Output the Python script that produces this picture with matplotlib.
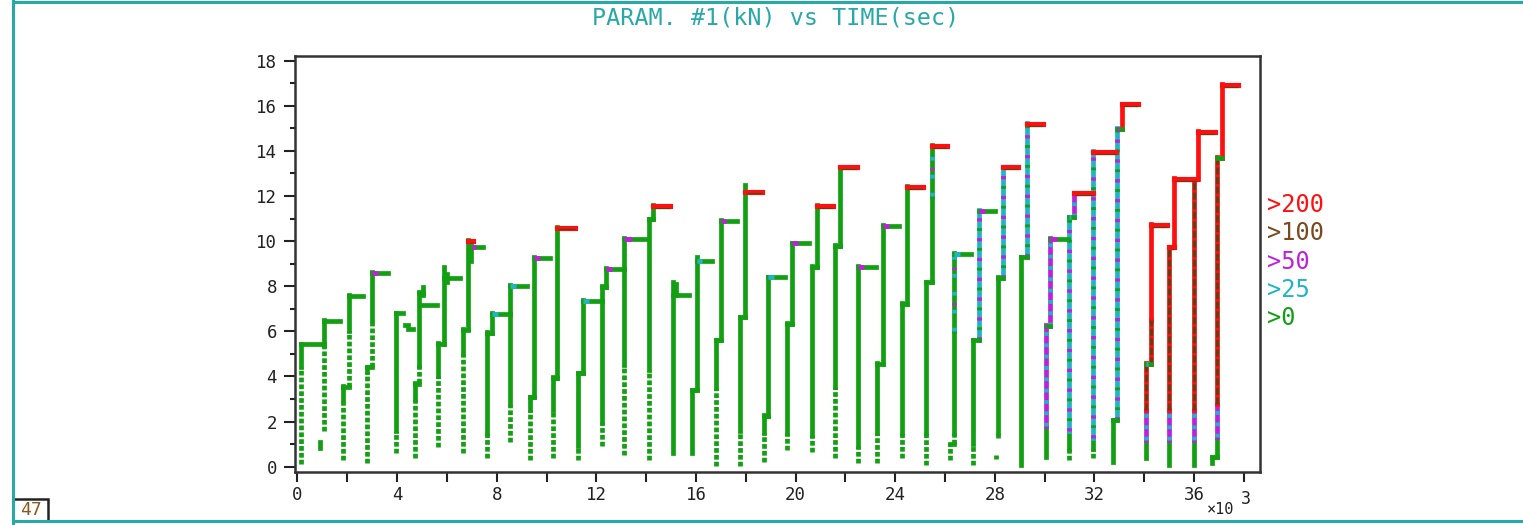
import matplotlib
matplotlib.use("Agg")
import matplotlib.pyplot as plt
from matplotlib.lines import Line2D
from matplotlib.patches import Rectangle

# ---------------- data (time in 10^3 s, load in kN) ----------------
# vertical runs: time, lowest value, value where the solid run starts, top value, colour class
vert_t = [0.14, 0.90, 1.08,
          1.84, 2.07,
          2.80, 2.98,
          3.96,
          4.72, 4.89, 5.03,
          5.66, 5.88, 6.00,
          6.66, 6.86, 6.98,
          7.60, 7.80, 8.53,
          9.34, 9.50,
          10.27, 10.43,
          11.25, 11.45, 12.22, 12.39, 13.13, 14.13, 14.29,
          15.07, 15.20,
          15.83, 16.06,
          16.81, 17.00,
          17.77, 17.97,
          18.73, 18.91,
          19.67, 19.85,
          20.65, 20.85,
          21.59, 21.79,
          22.52,
          23.29, 23.53,
          24.26, 24.46,
          25.24, 25.47, 25.47,
          26.20, 26.38, 26.38,
          27.14, 27.38,
          28.12, 28.05, 28.32,
          29.04, 29.28,
          30.05, 30.05, 30.22, 31.00, 31.00, 31.18, 31.96, 31.96, 32.74, 32.92, 33.10,
          34.08, 34.08, 34.08, 34.27, 34.27,
          35.01, 35.01, 35.01, 35.20, 35.98, 35.98, 35.98, 36.18,
          36.71, 36.94, 36.94, 36.94, 37.14]
vert_lo = [0.10, 0.85, 1.60,
           0.30, 3.55,
           0.15, 4.40,
           0.60,
           0.40, 3.70, 7.60,
           0.89, 5.45, 8.20,
           0.60, 6.10, 9.10,
           0.37, 5.95, 1.10,
           0.30, 3.10,
           0.37, 3.95,
           0.30, 4.15, 0.90, 7.95, 0.50, 0.30, 10.97,
           0.59, 7.60,
           0.59, 3.40,
           0.05, 5.60,
           0.05, 6.62,
           0.22, 2.27,
           0.74, 6.33,
           0.67, 8.87,
           0.37, 9.80,
           0.15,
           0.15, 4.55,
           0.37, 7.20,
           0.07, 8.17, 12.00,
           0.30, 1.00, 6.00,
           0.08, 5.60,
           1.26, 0.35, 8.37,
           0.08, 9.28,
           0.44, 1.80, 6.25, 0.30, 1.60, 11.05, 0.37, 1.26, 0.22, 2.05, 14.97,
           0.37, 1.20, 2.50, 4.55, 6.50,
           0.08, 1.20, 2.50, 9.72, 0.08, 1.20, 2.50, 12.75,
           0.15, 0.44, 1.33, 2.80, 13.70]
vert_solid = [4.40, 0.85, 5.40,
              3.00, 6.00,
              4.20, 6.50,
              1.60,
              3.00, 4.50, 7.60,
              4.00, 5.45, 8.20,
              5.00, 6.10, 9.10,
              1.50, 5.95, 2.80,
              2.50, 3.10,
              2.50, 3.95,
              0.90, 4.15, 2.00, 7.95, 4.50, 4.30, 10.97,
              0.59, 7.60,
              0.59, 3.40,
              3.50, 5.60,
              1.60, 6.62,
              1.50, 2.27,
              1.50, 6.33,
              1.40, 8.87,
              3.55, 9.80,
              0.90,
              1.50, 4.55,
              1.50, 7.20,
              1.50, 8.17, 12.00,
              1.04, 1.50, 6.00,
              1.00, 5.60,
              1.50, 0.50, 8.37,
              0.08, 9.28,
              0.44, 1.80, 6.25, 0.80, 1.60, 11.05, 0.80, 1.26, 0.22, 2.05, 14.97,
              0.37, 1.20, 2.50, 4.55, 6.50,
              0.08, 1.20, 2.50, 9.72, 0.08, 1.20, 2.50, 12.75,
              0.15, 0.44, 1.33, 2.80, 13.70]
vert_hi = [5.45, 1.10, 6.50,
           3.60, 7.62,
           4.43, 8.62,
           6.83,
           3.70, 7.75, 7.95,
           5.47, 8.87, 8.55,
           6.10, 10.05, 9.80,
           5.98, 6.80, 8.05,
           3.10, 9.28,
           3.99, 10.64,
           4.17, 7.39, 8.00, 8.79, 10.12, 11.00, 11.60,
           8.20, 8.10,
           3.40, 9.31,
           5.62, 10.94,
           6.65, 12.49,
           2.29, 8.42,
           6.36, 9.93,
           8.90, 11.60,
           9.83, 13.30,
           8.90,
           4.58, 10.71,
           7.24, 12.44,
           8.20, 12.00, 14.26,
           1.04, 6.00, 9.46,
           5.62, 11.38,
           8.39, 0.50, 13.30,
           9.31, 15.22,
           1.80, 6.28, 10.12, 1.60, 11.08, 12.15, 1.26, 14.00, 2.07, 15.00, 16.10,
           1.20, 2.50, 4.58, 6.50, 10.76,
           1.20, 2.50, 9.75, 12.78, 1.20, 2.50, 12.75, 14.90,
           0.44, 1.33, 2.80, 13.74, 16.96]
vert_cls = ['g', 'g', 'g',
            'g', 'g',
            'g', 'g',
            'g',
            'g', 'g', 'g',
            'g', 'g', 'g',
            'g', 'g', 'g',
            'g', 'g', 'g',
            'g', 'g',
            'g', 'g',
            'g', 'g', 'g', 'g', 'g', 'g', 'g',
            'g', 'g',
            'g', 'g',
            'g', 'g',
            'g', 'g',
            'g', 'g',
            'g', 'g',
            'g', 'g',
            'g', 'g',
            'g',
            'g', 'g',
            'g', 'g',
            'g', 'g', 'gc',
            'g', 'g', 'gc',
            'g', 'cm',
            'g', 'g', 'cm',
            'g', 'cm',
            'g', 'mc', 'mc', 'g', 'cm', 'mc', 'g', 'cm', 'g', 'cm', 'r',
            'g', 'mc', 'br', 'br', 'r',
            'g', 'mc', 'br', 'r', 'g', 'mc', 'br', 'r',
            'g', 'g', 'mc', 'br', 'r']

# horizontal runs (dwell levels): start time, end time, level, colour class
cap_t0 = [0.14, 1.08, 1.84, 2.07, 2.80, 2.98, 3.96, 4.30, 4.45,
          4.72, 4.89, 4.95, 5.66, 5.88, 6.66, 6.86, 7.00,
          7.60, 7.80, 8.53, 9.34, 9.50, 10.27, 10.43,
          11.25, 11.45, 12.22, 12.39, 13.13, 14.13, 14.29,
          15.07, 15.83, 16.06, 16.81, 17.00, 17.77, 17.97,
          18.73, 18.91, 19.67, 19.85, 20.65, 20.85, 21.59, 21.79,
          22.52, 23.29, 23.53, 24.26, 24.46, 25.24, 25.47,
          26.20, 26.38, 27.14, 27.38, 28.12, 28.32, 29.04, 29.28,
          30.05, 30.22, 31.00, 31.18, 31.96, 32.74, 32.92, 33.10,
          34.08, 34.27, 35.01, 35.20, 36.18, 36.71, 36.94, 37.14]
cap_t1 = [1.08, 1.71, 2.07, 2.63, 2.98, 3.65, 4.25, 4.45, 4.65,
          4.89, 5.05, 5.59, 5.88, 6.53, 6.86, 7.05, 7.46,
          7.80, 8.53, 9.20, 9.50, 10.14, 10.43, 11.14,
          11.45, 12.22, 12.39, 13.13, 14.02, 14.29, 14.96,
          15.72, 16.06, 16.63, 17.00, 17.64, 17.97, 18.64,
          18.91, 19.58, 19.85, 20.55, 20.85, 21.49, 21.79, 22.46,
          23.23, 23.53, 24.17, 24.46, 25.13, 25.47, 26.07,
          26.38, 27.04, 27.38, 28.01, 28.32, 28.95, 29.28, 29.93,
          30.22, 30.96, 31.18, 31.96, 32.87, 32.92, 33.10, 33.77,
          34.27, 34.90, 35.20, 36.11, 36.85, 36.94, 37.14, 37.75]
cap_v = [5.42, 6.45, 3.55, 7.57, 4.40, 8.60, 6.80, 6.30, 6.10,
         3.68, 7.72, 7.15, 5.45, 8.35, 6.08, 10.00, 9.75,
         5.95, 6.75, 8.00, 3.08, 9.25, 3.95, 10.60,
         4.15, 7.35, 7.95, 8.75, 10.10, 10.97, 11.55,
         7.62, 3.40, 9.12, 5.60, 10.90, 6.62, 12.20,
         2.27, 8.40, 6.33, 9.90, 8.87, 11.55, 9.80, 13.28,
         8.87, 4.55, 10.65, 7.20, 12.40, 8.17, 14.22,
         1.00, 9.45, 5.60, 11.35, 8.37, 13.28, 9.28, 15.20,
         6.25, 10.10, 11.05, 12.12, 13.95, 2.05, 14.97, 16.07,
         4.55, 10.72, 9.72, 12.75, 14.85, 0.44, 13.70, 16.92]
cap_cls = ['g', 'g', 'g', 'g', 'g', 'm', 'g', 'g', 'g',
           'g', 'g', 'g', 'g', 'g', 'g', 'r', 'm',
           'g', 'c', 'c', 'g', 'm', 'g', 'r',
           'g', 'c', 'g', 'm', 'm', 'g', 'r',
           'g', 'g', 'c', 'g', 'm', 'g', 'r',
           'g', 'c', 'g', 'm', 'g', 'r', 'g', 'r',
           'm', 'g', 'm', 'g', 'r', 'g', 'r',
           'g', 'c', 'g', 'm', 'g', 'r', 'g', 'r',
           'm', 'm', 'c', 'r', 'r', 'g', 'm', 'r',
           'c', 'r', 'r', 'r', 'r', 'g', 'g', 'r']

x_major = [0, 4, 8, 12, 16, 20, 24, 28, 32, 36]
x_minor = [2, 6, 10, 14, 18, 22, 26, 30, 34, 38]
y_major = [0, 2, 4, 6, 8, 10, 12, 14, 16, 18]
legend_labels = ['>200', '>100', '>50', '>25', '>0']

# ---------------- style ----------------
W, H = 1523, 525
GREEN = '#12a012'
CYAN = '#22b4c4'
MAGENTA = '#c020dc'
BROWN = '#6a3c14'
RED = '#ff1010'
TEAL = '#28a8a8'
legend_colors = [RED, '#7a4a1e', MAGENTA, CYAN, GREEN]
MONO = 'DejaVu Sans Mono'
LW = 3.4

fig = plt.figure(figsize=(W / 100, H / 100), dpi=100)
fig.patch.set_facecolor('white')
ax = fig.add_axes([295 / W, 1 - 471.7 / H, (1260 - 295) / W, (471.7 - 55.7) / H])
ax.set_xlim(-0.1, 38.65)
ax.set_ylim(-0.22, 18.22)

# dotted (sparse sample) lower parts
for t, lo, s, c in zip(vert_t, vert_lo, vert_solid, vert_cls):
    if s > lo:
        ax.vlines(t, lo, s, colors=GREEN, linewidth=LW, linestyles=[(0, (1.0, 0.45))], zorder=2)

# solid parts
for t, s, hi, c in zip(vert_t, vert_solid, vert_hi, vert_cls):
    if hi <= s:
        continue
    if c == 'g':
        ax.vlines(t, s, hi, colors=GREEN, linewidth=LW, zorder=2, capstyle='projecting')
    elif c == 'gc':
        ax.vlines(t, s, hi, colors=GREEN, linewidth=LW, zorder=2, capstyle='projecting')
        ax.vlines(t, s, hi, colors=CYAN, linewidth=LW, linestyles=[(0, (0.8, 3.0))], zorder=3)
        ax.vlines(t, s, hi, colors=MAGENTA, linewidth=LW, linestyles=[(2, (0.5, 7.0))], zorder=3)
    elif c == 'cm':
        ax.vlines(t, s, hi, colors=CYAN, linewidth=LW, zorder=2, capstyle='projecting')
        ax.vlines(t, s, hi, colors=MAGENTA, linewidth=LW, linestyles=[(0, (0.7, 3.5))], zorder=3)
        ax.vlines(t, s, hi, colors=GREEN, linewidth=LW, linestyles=[(2, (0.6, 3.6))], zorder=3)
    elif c == 'mc':
        ax.vlines(t, s, hi, colors=MAGENTA, linewidth=LW, zorder=2, capstyle='projecting')
        ax.vlines(t, s, hi, colors=CYAN, linewidth=LW, linestyles=[(0, (0.8, 1.6))], zorder=3)
    elif c == 'br':
        ax.vlines(t, s, hi, colors=RED, linewidth=LW, zorder=2, capstyle='projecting')
        ax.vlines(t, s, hi, colors=BROWN, linewidth=2.3, linestyles=[(0, (2.2, 0.8))], zorder=3)
    elif c == 'r':
        ax.vlines(t, s, hi, colors=RED, linewidth=LW, zorder=2, capstyle='projecting')

# dwell levels
for t0, t1, v, c in zip(cap_t0, cap_t1, cap_v, cap_cls):
    if c == 'r':
        ax.hlines(v, t0, t1, colors=RED, linewidth=LW + 0.3, zorder=4, capstyle='projecting')
        ax.hlines(v - 0.08, t0 + 0.05, t1, colors=BROWN, linewidth=0.9, zorder=4)
    else:
        ax.hlines(v, t0, t1, colors=GREEN, linewidth=LW, zorder=4, capstyle='projecting')
        if c in ('c', 'm'):
            col = CYAN if c == 'c' else MAGENTA
            ax.hlines(v, t0, t0 + 0.35 * (t1 - t0), colors=col, linewidth=LW, zorder=5)

# axes styling
for sp in ax.spines.values():
    sp.set_linewidth(1.8)
    sp.set_color('#333333')
ax.set_xticks(x_major)
ax.set_xticks(x_minor, minor=True)
ax.set_xticklabels([str(v) for v in x_major])
ax.set_yticks(y_major)
ax.set_yticks([v + 1 for v in y_major[:-1]], minor=True)
ax.set_yticklabels([str(v) for v in y_major])
ax.tick_params(axis='x', which='both', direction='out', length=7, width=1.5, color='#222222',
               labelsize=12.5, pad=3)
ax.tick_params(axis='y', which='major', direction='out', length=8, width=1.5, color='#222222',
               labelsize=12.5, pad=5)
ax.tick_params(axis='y', which='minor', direction='out', length=3.5, width=1.5, color='#222222')
for lab in ax.get_xticklabels() + ax.get_yticklabels():
    lab.set_fontfamily(MONO)
    lab.set_color('#222222')

# multiplier label
fig.text(1207 / W, 1 - 510 / H, '×10', fontsize=11, family=MONO, color='#222222', ha='left', va='center')
fig.text(1241 / W, 1 - 499 / H, '3', fontsize=12, family=MONO, color='#222222', ha='left', va='center')

# title
fig.text(776 / W, 1 - 18 / H, 'PARAM. #1(kN) vs TIME(sec)', fontsize=16.8, family=MONO,
         color=TEAL, ha='center', va='center')

# legend of level classes
for i, (lab, col) in enumerate(zip(legend_labels, legend_colors)):
    y = 205 + i * 28.3
    fig.text(1267 / W, 1 - y / H, lab, fontsize=17, family=MONO, color=col,
             ha='left', va='center')

# outer window frame
fig.add_artist(Line2D([13 / W, 13 / W], [0, 1], transform=fig.transFigure, color=TEAL, linewidth=2.2))
fig.add_artist(Line2D([13 / W, 1], [1 - 521 / H, 1 - 521 / H], transform=fig.transFigure,
                      color=TEAL, linewidth=2.2))
fig.add_artist(Line2D([13 / W, 1], [1 - 1.5 / H, 1 - 1.5 / H], transform=fig.transFigure,
                      color=TEAL, linewidth=2.2))
fig.add_artist(Rectangle((13 / W, 1 - 521 / H), 35 / W, 22 / H, transform=fig.transFigure,
                         fill=False, edgecolor='#222222', linewidth=1.8))
fig.text(30.5 / W, 1 - 510 / H, '47', fontsize=13, family=MONO, color='#8a5a20',
         ha='center', va='center')

fig.savefig('out.png', dpi=100, facecolor='white')
